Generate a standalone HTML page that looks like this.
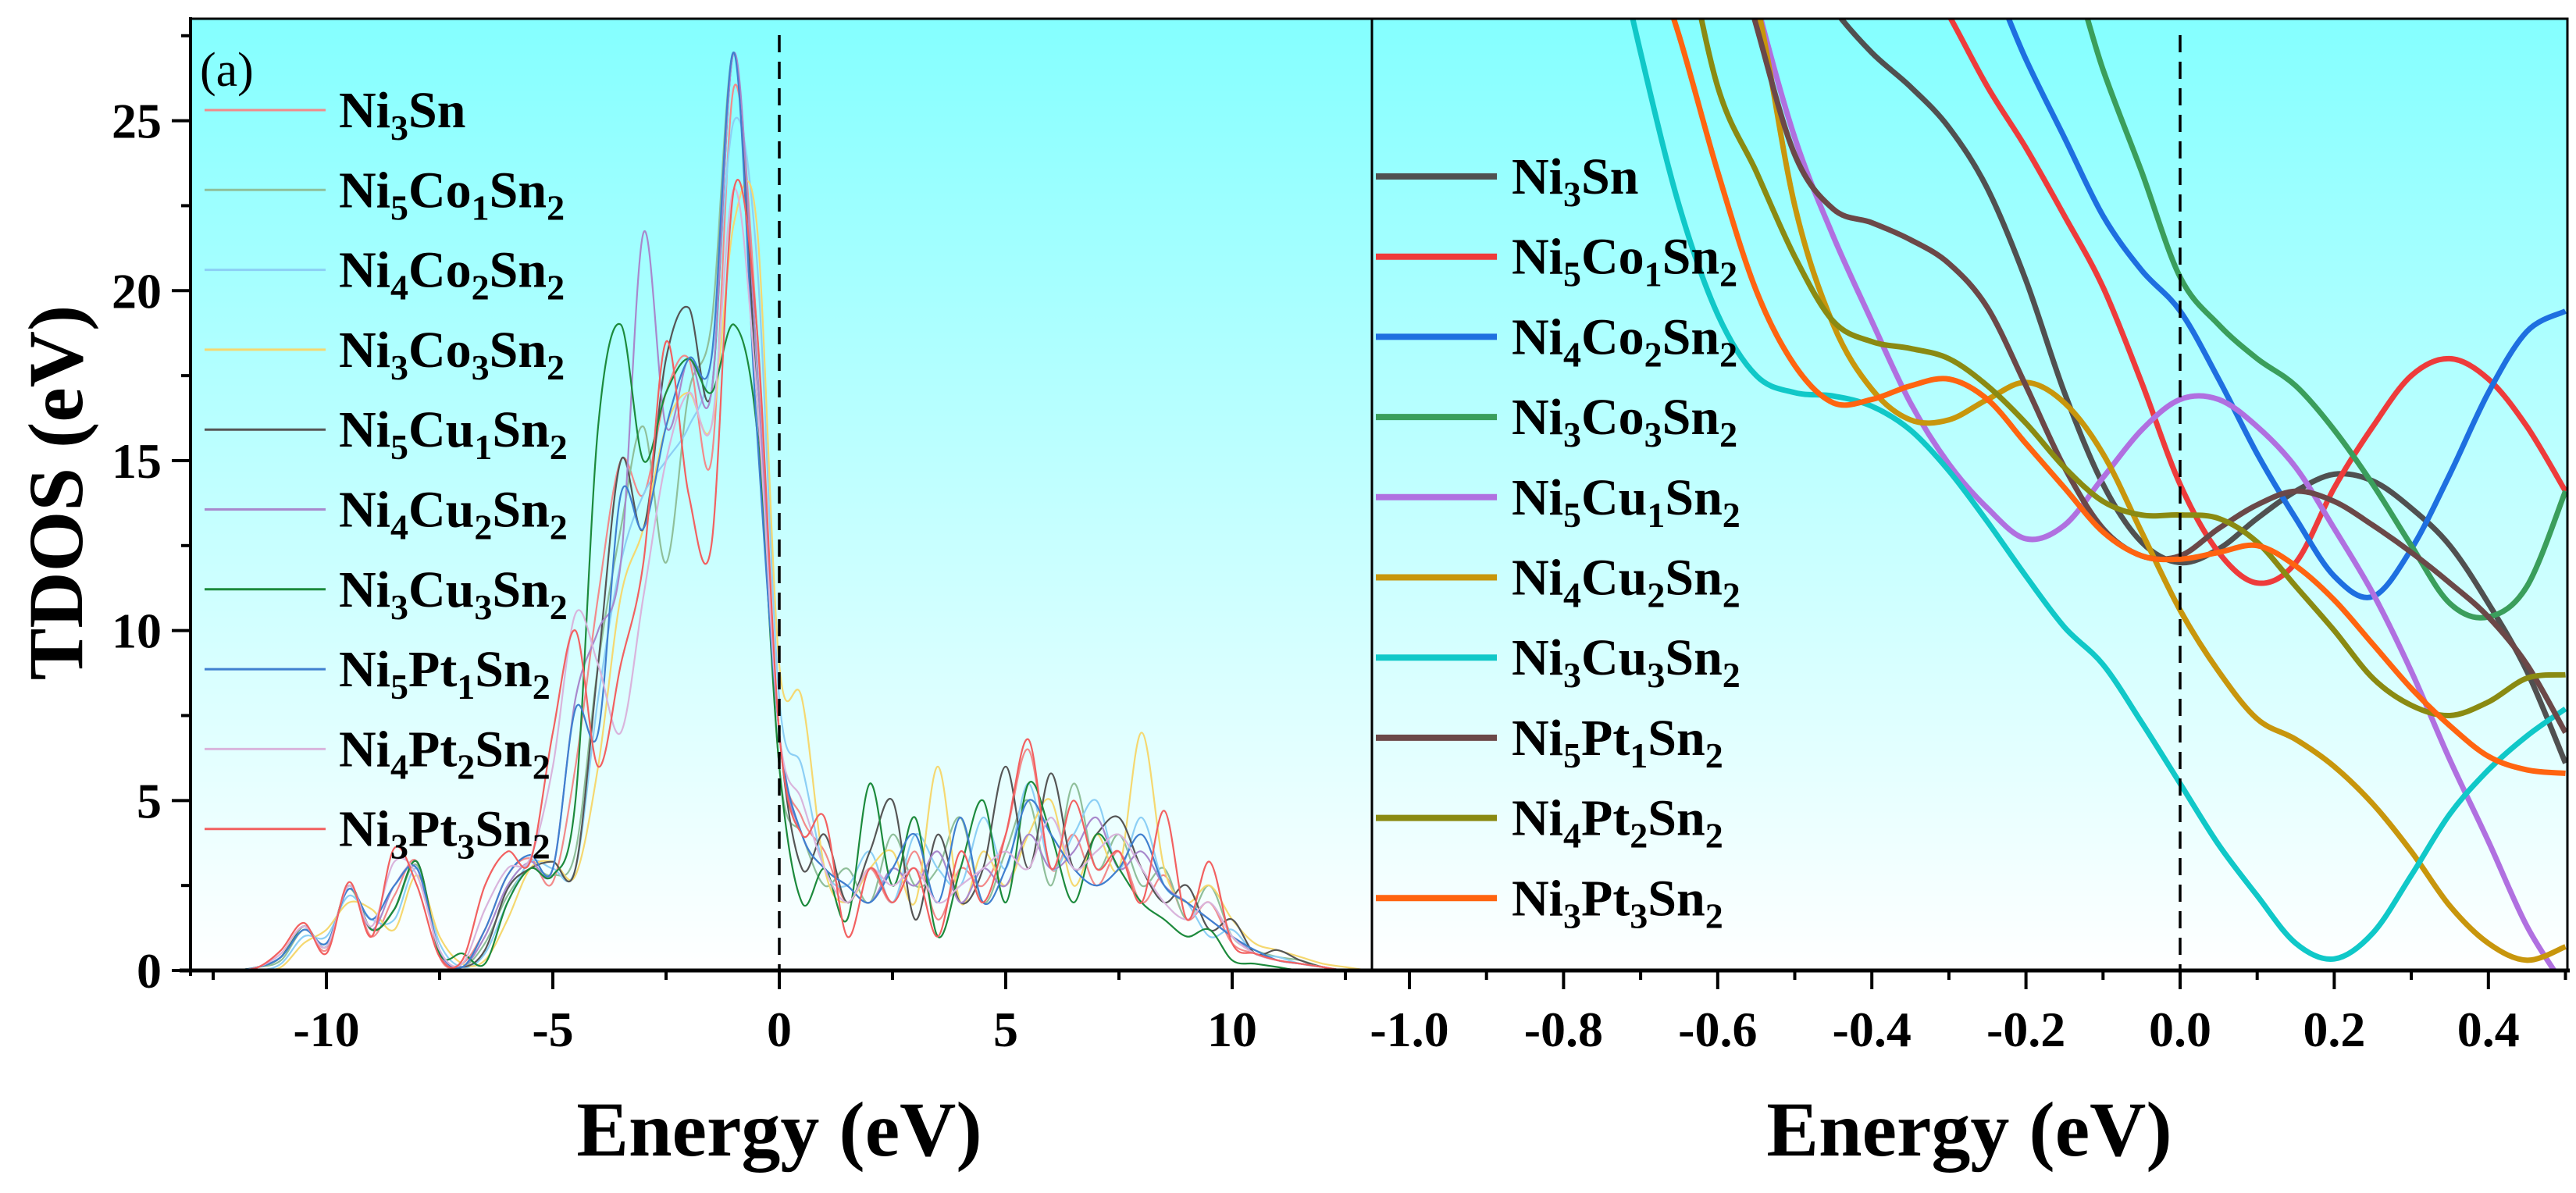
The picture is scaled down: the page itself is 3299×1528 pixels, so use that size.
<!DOCTYPE html>
<html><head><meta charset="utf-8">
<style>
html,body{margin:0;padding:0;background:#fff;}
svg{display:block;font-family:"Liberation Serif",serif;}
</style></head>
<body>
<svg id="chart" width="3299" height="1528" viewBox="0 0 3299 1528" xmlns="http://www.w3.org/2000/svg">
<defs>
<linearGradient id="bg" x1="0" y1="0" x2="0" y2="1">
<stop offset="0" stop-color="#84ffff"/><stop offset="1" stop-color="#ffffff"/>
</linearGradient>
<clipPath id="clipL"><rect x="244" y="24" width="1513" height="1219"/></clipPath>
<clipPath id="clipR"><rect x="1757" y="24" width="1531" height="1219"/></clipPath>
</defs>
<rect x="244" y="24" width="3044" height="1219" fill="url(#bg)"/>
<g id="layer"></g>
</svg>
<script>
// ---- Left panel data ----
const energyFull = [];
for (let i = 0; i <= 50; i++) energyFull.push(-12 + i * 0.5);
const seriesNames = ["Ni3Sn","Ni5Co1Sn2","Ni4Co2Sn2","Ni3Co3Sn2","Ni5Cu1Sn2","Ni4Cu2Sn2","Ni3Cu3Sn2","Ni5Pt1Sn2","Ni4Pt2Sn2","Ni3Pt3Sn2"];
const tdosNi3Sn   = [0,0.1,0.5,1.3,0.6,2.5,1.0,2.2,3.2,0.4,0.2,1.2,2.8,3.3,2.6,6,11,15,14,17,18,15,26,19,7,4.5,3.5,2,3,2,3.5,1.5,3,2.5,4,6.5,3,4,2.5,3.5,2,2.8,1.5,2,0.8,0.5,0.3,0.2,0.1,0,0];
const tdosNi5Co1 = [0,0.1,0.3,1.2,0.8,2.4,1.2,1.8,3.1,0.5,0.1,0.8,2.2,3.0,2.8,3.5,9,13,16,12,17,19,27,18,6,4,2.5,3,2,4,2.5,3,4.5,2,3.5,5,2.5,5.5,3,4,2.5,3,1.5,2.5,1,0.6,0.4,0.3,0.1,0,0];
const tdosNi4Co2 = [0,0,0.2,1.0,1.0,2.2,1.5,1.5,3.0,0.8,0.1,0.5,2.0,3.2,3.0,3.0,8,12,14,15,16,18,25,21,8,6,3,2.5,3.5,2,4,3,2.5,4.5,3,5.5,3,4,5,3,4.5,2.5,2,1,1.2,0.5,0.4,0.2,0.1,0,0];
const tdosNi3Co3 = [0,0,0.1,0.8,1.2,2.0,1.8,1.2,2.8,1.0,0.2,0.3,1.5,3.0,3.2,2.8,6,11,13,16,17,16,22,22,9,8,3,2,3,3.5,2,6,2,3.5,2.5,4,5,2.5,4,3,7,3,2,2.5,1.5,0.8,0.6,0.4,0.2,0.1,0];
const tdosNi5Cu1 = [0,0.1,0.4,1.3,0.7,2.5,1.2,1.8,3.2,0.5,0.1,0.6,2.4,3.0,3.2,3.0,9,15,13,18,19.5,17,27,17,7,3,4,2,3.5,5,1.5,4,2,3,6,3,5.8,3,4,4.5,3,2,2.5,1.2,1.5,0.5,0.6,0.3,0.1,0,0];
const tdosNi4Cu2 = [0,0.1,0.4,1.3,0.7,2.5,1.2,2.5,3.0,0.5,0.1,1.0,2.5,3.2,3.0,8,10,12,21.7,16,18,17,27,18,7,4,3,2.5,2,3,2.5,3.5,2,3,2.5,4,3,3.5,4.5,3,3.5,2.5,2,1.5,1,0.5,0.3,0.2,0.1,0,0];
const tdosNi3Cu3 = [0,0.1,0.4,1.3,0.7,2.5,1.2,1.8,3.2,0.5,0.5,0.2,2.0,3.0,2.8,5,16,19,15,17,18,17,19,16,6,2,3,1.5,5.5,2.5,4.5,1,3,5,2,5.5,4,2,4,3,2,1.5,1,1.2,0.3,0.2,0.1,0,0,0,0];
const tdosNi5Pt1 = [0,0.1,0.4,1.2,0.8,2.4,1.5,2.5,3.0,0.6,0.1,1.2,2.8,3.4,3.0,7.7,7,14,13,16,18,18,27,16,7,4,3,2.5,2,3,4,2,4.5,2,3,5,4,3,2.5,3,4,2.5,2,1.5,1,0.6,0.3,0.2,0.1,0,0];
const tdosNi4Pt2 = [0,0.1,0.5,1.3,0.7,2.5,1.3,3.2,2.8,0.6,0.2,1.8,3.0,3.3,6,10.5,9,7,11,15,17,16,23,17,7,5,3,2,3,2.5,3,2,2.5,3,3.5,3,4.5,3,3.5,4,3,2,1.5,2,1,0.5,0.3,0.2,0.1,0,0];
const tdosNi3Pt3 = [0,0.1,0.6,1.4,0.5,2.6,1.0,3.6,2.5,0.4,0.3,2.5,3.5,3.2,7,10,6,9,12,18.5,14,12.5,23,19,7,4,4.5,1,3,2,3,1,3.5,2,4,6.8,3,5,3,3.5,2,4.7,1.5,3.2,0.8,0.5,0.3,0.2,0.1,0,0];
const leftTicksX = [-10,-5,0,5,10];
const leftTicksY = [0,5,10,15,20,25];

// ---- Right panel data ----
const energyZoom = [-0.75,-0.70,-0.65,-0.60,-0.55,-0.50,-0.45,-0.40,-0.35,-0.30,-0.25,-0.20,-0.15,-0.10,-0.05,0,0.05,0.10,0.15,0.20,0.25,0.30,0.35,0.40,0.45,0.50];
const zNi3Sn   = [40,38,36,34,32,30,28.3,27,26,24.8,23,20.3,17,14.3,12.6,12,12.4,13.3,14.1,14.6,14.4,13.6,12.5,10.8,8.8,6.1];
const zNi5Co1 = [44,43,42,40,38,35,33,31.5,30,28.1,26.0,24.2,22.2,20.1,17.3,14.3,12.3,11.4,12.0,14.2,16.0,17.5,18.0,17.4,16.0,14.1];
const zNi4Co2 = [46,45,44,42,40,38,36,34,32,31,29.4,26.8,24.5,22.2,20.6,19.4,17.4,15.2,13.3,11.6,11.0,12.4,14.6,17.0,18.8,19.4];
const zNi3Co3 = [48,47,46,45,44,42,40,38,36,34,32,31,30,26.5,23.5,20.4,19.0,18.0,17.2,15.9,14.3,12.5,10.8,10.4,11.3,14.1];
const zNi5Cu1 = [40,38,35,33,28.5,24.5,21.6,19.1,16.7,14.9,13.6,12.7,13.1,14.5,15.9,16.8,16.8,16.0,14.8,13.0,11.1,8.8,6.2,3.8,1.3,-0.5];
const zNi4Cu2 = [40,38,35,32,28.5,22.5,19.0,17.1,16.2,16.2,16.8,17.3,16.7,15.2,12.9,10.6,8.8,7.4,6.8,6.0,4.9,3.5,1.9,0.8,0.3,0.7];
const zNi3Cu3 = [32,27.0,22.5,19.3,17.5,17.0,16.9,16.6,15.9,14.7,13.2,11.6,10.1,9.0,7.3,5.5,3.7,2.2,0.8,0.34,1.1,2.8,4.6,5.9,6.9,7.7];
const zNi5Pt1 = [40,38,35,32,27.8,24.0,22.4,22.0,21.5,20.8,19.5,17.2,14.8,13.0,12.2,12.2,13.0,13.7,14.1,13.8,13.1,12.3,11.4,10.4,9.0,7.0];
const zNi4Pt2 = [38,35,31,26,23.5,21.0,19.1,18.5,18.3,18.0,17.2,16.1,14.8,13.8,13.4,13.4,13.3,12.6,11.3,10.0,8.6,7.8,7.5,7.9,8.6,8.7];
const zNi3Pt3 = [36,31,27.5,23.5,20.0,17.8,16.7,16.8,17.2,17.4,16.8,15.5,14.2,12.9,12.2,12.1,12.3,12.5,11.9,10.9,9.6,8.3,7.2,6.3,5.9,5.8];
const rightTicksX = [-1.0,-0.8,-0.6,-0.4,-0.2,0.0,0.2,0.4];

const leftSeries = [tdosNi3Sn,tdosNi5Co1,tdosNi4Co2,tdosNi3Co3,tdosNi5Cu1,tdosNi4Cu2,tdosNi3Cu3,tdosNi5Pt1,tdosNi4Pt2,tdosNi3Pt3];
const rightSeries = [zNi3Sn,zNi5Co1,zNi4Co2,zNi3Co3,zNi5Cu1,zNi4Cu2,zNi3Cu3,zNi5Pt1,zNi4Pt2,zNi3Pt3];
const leftColors = ["#f28a8a","#8fbf9a","#8ccff5","#f5d870","#555555","#a888cc","#1c8a3c","#3f7fcf","#d9b4dc","#f26060"];
const rightColors = ["#505050","#ee3b3b","#1e6fe0","#3a9e5c","#b070e0","#c8960c","#10c8c8","#6b4848","#8a8a12","#ff6410"];
const legendLabels = [["Ni","3","Sn",""],["Ni","5","Co","1","Sn","2"],["Ni","4","Co","2","Sn","2"],["Ni","3","Co","3","Sn","2"],["Ni","5","Cu","1","Sn","2"],["Ni","4","Cu","2","Sn","2"],["Ni","3","Cu","3","Sn","2"],["Ni","5","Pt","1","Sn","2"],["Ni","4","Pt","2","Sn","2"],["Ni","3","Pt","3","Sn","2"]];

const NS = "http://www.w3.org/2000/svg";
const layer = document.getElementById('layer');
function mk(tag, attrs, parent){ const e=document.createElementNS(NS,tag); for(const k in attrs) e.setAttribute(k,attrs[k]); (parent||layer).appendChild(e); return e; }

const yTop = 24, yBot = 1243, yMax = 28;
function yScale(v){ return yBot - v/yMax*(yBot-yTop); }
function xL(e){ return 998 + e*58; }
function xR(e){ return 2792 + e*987; }

function smoothPath(pts){
  let d = "M"+pts[0][0].toFixed(1)+","+pts[0][1].toFixed(1);
  for(let i=0;i<pts.length-1;i++){
    const p0=pts[Math.max(0,i-1)], p1=pts[i], p2=pts[i+1], p3=pts[Math.min(pts.length-1,i+2)];
    const c1x=p1[0]+(p2[0]-p0[0])/6, c1y=p1[1]+(p2[1]-p0[1])/6;
    const c2x=p2[0]-(p3[0]-p1[0])/6, c2y=p2[1]-(p3[1]-p1[1])/6;
    d+=" C"+c1x.toFixed(1)+","+c1y.toFixed(1)+" "+c2x.toFixed(1)+","+c2y.toFixed(1)+" "+p2[0].toFixed(1)+","+p2[1].toFixed(1);
  }
  return d;
}

// left curves
const gL = mk('g',{'clip-path':'url(#clipL)'});


leftSeries.forEach((vals,i)=>{
  const pts = vals.map((v,j)=>[xL(energyFull[j]), yScale(Math.max(0,v))]);
  const p = mk('path',{d:smoothPath(pts),fill:'none',stroke:leftColors[i],'stroke-width':2.2}, gL);
  
  
});
// right curves
const gR = mk('g',{'clip-path':'url(#clipR)'});


rightSeries.forEach((vals,i)=>{
  const pts = vals.map((v,j)=>[xR(energyZoom[j]), yScale(v)]);
  const p = mk('path',{d:smoothPath(pts),fill:'none',stroke:rightColors[i],'stroke-width':7}, gR);
  
  
});

// fermi dashed lines
[xL(0), xR(0)].forEach((x,i)=>{
  const l = mk('line',{x1:x,y1:45,x2:x,y2:yBot,stroke:'#000','stroke-width':3.5,'stroke-dasharray':'22,12'});
  
  
});

// frame
const fr = mk('path',{d:"M244,24 H3288 V1243 M1757,24 V1243",fill:'none',stroke:'#000','stroke-width':3});


const ax = mk('line',{x1:230,y1:yBot,x2:3291,y2:yBot,stroke:'#000','stroke-width':5});


const ay = mk('line',{x1:244,y1:22,x2:244,y2:1250,stroke:'#000','stroke-width':4});



const fontB = 'font-family:"Liberation Serif",serif;font-weight:bold;';
// left x ticks
for(let e=-12.5;e<=12.5;e+=2.5){
  const major = Math.abs(e%5)<1e-6;
  const t = mk('line',{x1:xL(e),y1:yBot,x2:xL(e),y2:yBot+(major?24:12),stroke:'#000','stroke-width':4});
  
  
}
leftTicksX.forEach(e=>{
  const t = mk('text',{x:xL(e),y:1340,'text-anchor':'middle',style:fontB+'font-size:64px'});
  t.textContent = String(e);
  
  
});
// y ticks
for(let v=0; v<=27.5; v+=2.5){
  const major = Math.abs(v%5)<1e-6;
  const t = mk('line',{x1:244,y1:yScale(v),x2:244-(major?24:12),y2:yScale(v),stroke:'#000','stroke-width':4});
  
  
}
leftTicksY.forEach(v=>{
  const t = mk('text',{x:207,y:yScale(v)+22,'text-anchor':'end',style:fontB+'font-size:64px'});
  t.textContent = String(v);
  
  
});
// right x ticks
for(let k=-10;k<=5;k++){
  const e=k/10, major = (k%2===0);
  const t = mk('line',{x1:xR(e),y1:yBot,x2:xR(e),y2:yBot+(major?24:12),stroke:'#000','stroke-width':4});
  
  
}
rightTicksX.forEach(e=>{
  const t = mk('text',{x:xR(e),y:1340,'text-anchor':'middle',style:fontB+'font-size:64px'});
  t.textContent = e.toFixed(1);
  
  
});

// axis titles
let tt = mk('text',{x:998,y:1480,'text-anchor':'middle',style:fontB+'font-size:100px'});
tt.textContent='Energy (eV)';


tt = mk('text',{x:2522,y:1480,'text-anchor':'middle',style:fontB+'font-size:100px'});
tt.textContent='Energy (eV)';


tt = mk('text',{x:0,y:0,'text-anchor':'middle',transform:'translate(105,631) rotate(-90)',style:fontB+'font-size:100px'});
tt.textContent='TDOS (eV)';


tt = mk('text',{x:256,y:110,style:'font-family:"Liberation Serif",serif;font-size:62px'});
tt.textContent='(a)';



// legends
function legend(x1,x2,tx,y0,dy,colors,w,prefix){
  legendLabels.forEach((parts,i)=>{
    const y = y0 + i*dy;
    const g = mk('g',{});
    
    
    mk('line',{x1:x1,y1:y,x2:x2,y2:y,stroke:colors[i],'stroke-width':w},g);
    const t = mk('text',{x:tx,y:y+22,style:fontB+'font-size:66px'},g);
    let lowered = false;
    for(let k=0;k<parts.length;k+=2){
      const a = document.createElementNS(NS,'tspan');
      a.textContent=parts[k];
      if(lowered){ a.setAttribute('dy','-16'); lowered=false; }
      t.appendChild(a);
      if(parts[k+1]){
        const s=document.createElementNS(NS,'tspan');
        s.setAttribute('dy','16');
        s.setAttribute('font-size','46');
        s.textContent=parts[k+1];
        t.appendChild(s);
        lowered = true;
      }
    }
  });
}
legend(262,417,434,141,102.3,leftColors,3,'legend-left');
legend(1762,1917,1936,226,102.7,rightColors,8,'legend-right');
</script>
</body></html>
